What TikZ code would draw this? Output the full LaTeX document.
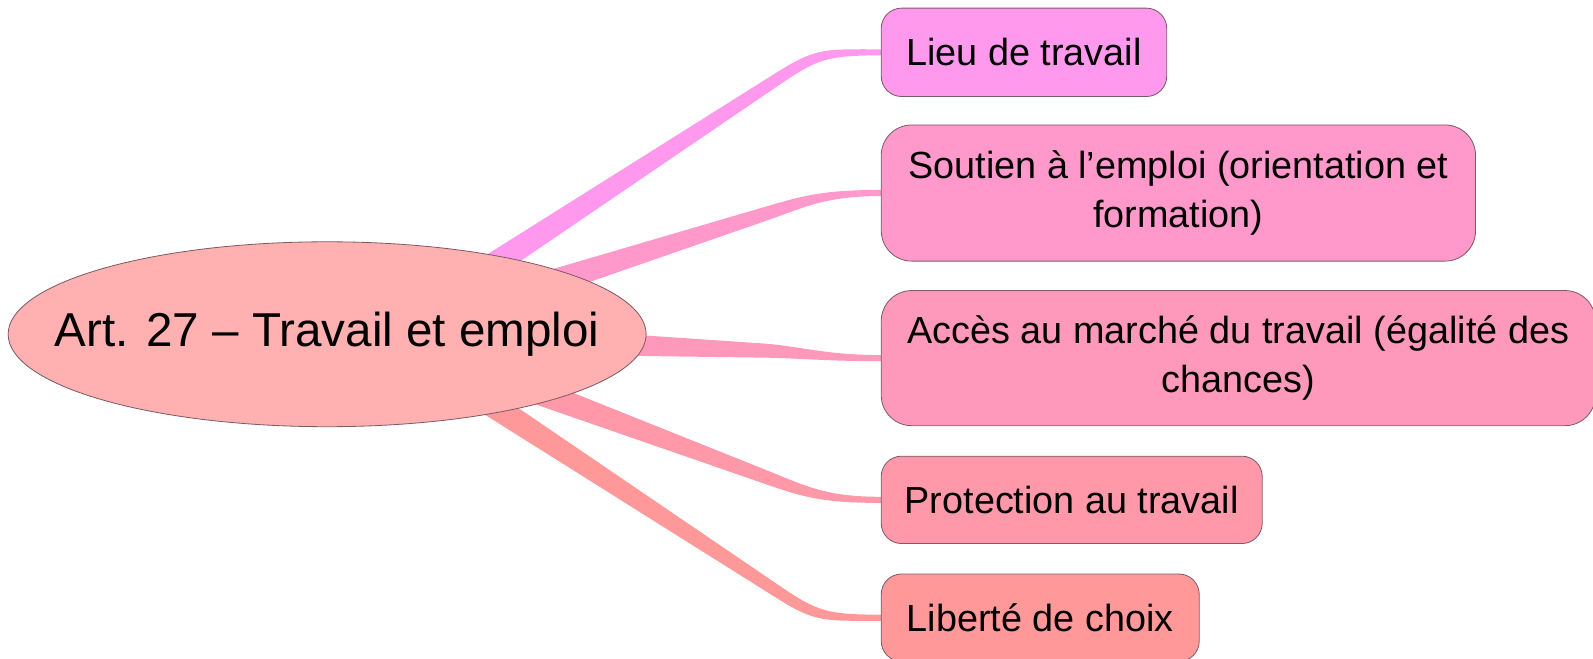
\documentclass[tikz,border=0pt]{standalone}
\usepackage{fontspec}
\setmainfont{Liberation Sans}
\usetikzlibrary{calc}
\usetikzlibrary{shapes.geometric}
\usetikzlibrary{backgrounds}
\definecolor{RootPink}{RGB}{255,176,176}
\definecolor{LieuPink}{RGB}{255,153,238}
\definecolor{SoutienPink}{RGB}{255,153,204}
\definecolor{AccesPink}{RGB}{255,153,187}
\definecolor{ProtectionPink}{RGB}{255,153,170}
\definecolor{LiberteCoral}{RGB}{255,153,153}
\definecolor{BorderBrown}{RGB}{125,90,100}

\begin{document}
\begin{tikzpicture}[x=0.5pt, y=-0.5pt,
 topic/.style = {draw=BorderBrown, thin, ellipse, fill=RootPink, inner sep=0pt,
                 minimum width=314pt, minimum height=91pt},
 leaf/.style = {draw=BorderBrown, thin, rectangle, rounded corners=10pt, inner sep=0pt,
                anchor=west, align=center, font=\fontsize{18.6}{24}\selectfont},
                        ]
    \useasboundingbox (0,0) rectangle (1568,648);

    \node [topic] (art) at (322,329) {};
    \node [font=\fontsize{23.4}{28}\selectfont] at (art) {Art. 27 -- Travail et emploi};
    \coordinate (stem) at (380,330);

    \node [leaf, fill=LieuPink, minimum width=140.5pt, minimum height=43.5pt] (lieu) at (867,51.5) {Lieu de travail};
    \node [leaf, fill=SoutienPink, rounded corners=15pt, minimum width=292.5pt, minimum height=67pt] (soutien) at (867,190) {Soutien à l’emploi (orientation et\\formation)};
    \node [leaf, fill=AccesPink, rounded corners=15pt, minimum width=351.5pt, minimum height=66.5pt] (acces) at (867,352.5) {Accès au marché du travail (égalité des\\chances)};
    \node [leaf, fill=ProtectionPink, minimum width=187.5pt, minimum height=43pt] (protection) at (867,492) {Protection au travail};
    \node [leaf, fill=LiberteCoral, minimum width=156.5pt, minimum height=43pt] (liberte) at (867,608) {Liberté de choix};

    % tapered branches behind the nodes
    \begin{scope}[on background layer]
    \foreach \n/\ex/\ey/\c in {lieu/765/78/LieuPink, soutien/755/210/SoutienPink,
                               acces/750/345/AccesPink, protection/755/470/ProtectionPink,
                               liberte/765/582/LiberteCoral}{
      \coordinate (elbow) at (\ex,\ey);
      \coordinate (bend) at ($(stem)!1.1!(elbow)$);
      \fill [\c] ($(stem)+(0,-17)$) -- ($(elbow)+(0,-7)$)
           .. controls ($(bend)+(0,-6)$) and ($(\n.west)+(-55,-3)$) .. ($(\n.west)+(0,-3)$)
           -- ($(\n.west)+(0,3)$)
           .. controls ($(\n.west)+(-55,3)$) and ($(bend)+(0,6)$) .. ($(elbow)+(0,7)$)
           -- ($(stem)+(0,17)$) -- cycle;
    }
    \end{scope}

\end{tikzpicture}
\end{document}
